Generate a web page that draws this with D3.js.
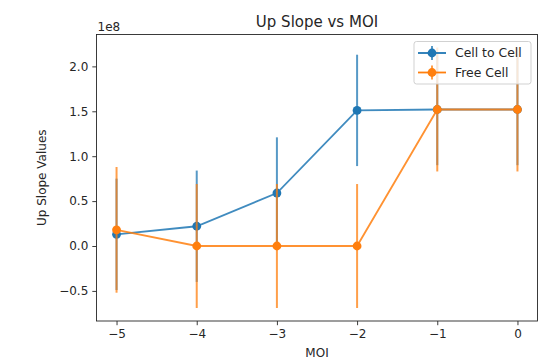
<!DOCTYPE html>
<html>
<head>
<meta charset="utf-8">
<script src="https://cdn.jsdelivr.net/npm/d3@7"></script>
<style>
  body { margin: 0; background: #fff; }
  svg { font-family: "DejaVu Sans", sans-serif; }
</style>
</head>
<body>
<svg id="chart"></svg>
<script>
// values in units of 1e8
const moi = [-5, -4, -3, -2, -1, 0];
const cellToCell = [0.13, 0.22, 0.59, 1.51, 1.52, 1.52];
const cellToCellErr = [0.62, 0.62, 0.62, 0.62, 0.62, 0.62];
const freeCell = [0.18, 0.0, 0.0, 0.0, 1.52, 1.52];
const freeCellErr = [0.70, 0.69, 0.69, 0.69, 0.69, 0.69];
const xTicks = [-5, -4, -3, -2, -1, 0];
const yTicks = [-0.5, 0.0, 0.5, 1.0, 1.5, 2.0];

const width = 555, height = 360;
const margin = {top: 34.5, right: 17.5, bottom: 39, left: 96.5};

const series = [
  {name: 'Cell to Cell', values: cellToCell, err: cellToCellErr, color: '#1f77b4'},
  {name: 'Free Cell', values: freeCell, err: freeCellErr, color: '#ff7f0e'}
];

const svg = d3.select('#chart')
  .attr('width', width)
  .attr('height', height);

const x = d3.scaleLinear()
  .domain([-5.25, 0.25])
  .range([margin.left, width - margin.right]);

// matplotlib style 5% padding around the error bar extent
const lo = d3.min(series, s => d3.min(s.values, (v, i) => v - s.err[i]));
const hi = d3.max(series, s => d3.max(s.values, (v, i) => v + s.err[i]));
const pad = (hi - lo) * 0.05;
const y = d3.scaleLinear()
  .domain([lo - pad, hi + pad])
  .range([height - margin.bottom, margin.top]);

const tickColor = '#262626';

const xAxis = svg.append('g')
  .attr('transform', 'translate(0,' + (height - margin.bottom) + ')')
  .call(d3.axisBottom(x)
    .tickValues(xTicks)
    .tickSize(4.2)
    .tickPadding(4)
    .tickFormat(d => d3.format('d')(d).replace('-', '\u2212')));

const yAxis = svg.append('g')
  .attr('transform', 'translate(' + margin.left + ',0)')
  .call(d3.axisLeft(y)
    .tickValues(yTicks)
    .tickSize(4.2)
    .tickPadding(4)
    .tickFormat(d => d3.format('.1f')(d).replace('-', '\u2212')));

[xAxis, yAxis].forEach(g => {
  g.select('.domain').remove();
  g.selectAll('.tick line').attr('stroke', tickColor).attr('stroke-width', 0.9);
  g.selectAll('.tick text')
    .attr('fill', tickColor)
    .style('font-size', '12px')
    .style('font-family', '"DejaVu Sans", sans-serif');
});

const plot = svg.append('g');

series.forEach(s => {
  const g = plot.append('g');
  g.selectAll('line.err')
    .data(moi)
    .join('line')
    .attr('class', 'err')
    .attr('x1', d => x(d))
    .attr('x2', d => x(d))
    .attr('y1', (d, i) => y(s.values[i] - s.err[i]))
    .attr('y2', (d, i) => y(s.values[i] + s.err[i]))
    .attr('stroke', s.color)
    .attr('stroke-width', 2)
    .attr('opacity', 0.75);

  g.append('path')
    .datum(moi)
    .attr('d', d3.line()
      .x(d => x(d))
      .y((d, i) => y(s.values[i])))
    .attr('fill', 'none')
    .attr('stroke', s.color)
    .attr('stroke-width', 1.8)
    .attr('opacity', 0.85);

  g.selectAll('circle')
    .data(moi)
    .join('circle')
    .attr('cx', d => x(d))
    .attr('cy', (d, i) => y(s.values[i]))
    .attr('r', 4.4)
    .attr('fill', s.color);
});

// frame
svg.append('rect')
  .attr('x', margin.left)
  .attr('y', margin.top)
  .attr('width', width - margin.left - margin.right)
  .attr('height', height - margin.top - margin.bottom)
  .attr('fill', 'none')
  .attr('stroke', tickColor)
  .attr('stroke-width', 0.9);

// offset text
svg.append('text')
  .attr('x', margin.left + 1)
  .attr('y', margin.top - 3.5)
  .attr('font-size', 12)
  .attr('fill', tickColor)
  .text('1e8');

svg.append('text')
  .attr('x', (margin.left + width - margin.right) / 2)
  .attr('y', 27)
  .attr('text-anchor', 'middle')
  .attr('font-size', 15)
  .attr('fill', tickColor)
  .text('Up Slope vs MOI');

svg.append('text')
  .attr('x', (margin.left + width - margin.right) / 2)
  .attr('y', 357)
  .attr('text-anchor', 'middle')
  .attr('font-size', 12)
  .attr('fill', tickColor)
  .text('MOI');

svg.append('text')
  .attr('transform', 'translate(46,' + ((margin.top + height - margin.bottom) / 2) + ') rotate(-90)')
  .attr('text-anchor', 'middle')
  .attr('font-size', 12)
  .attr('fill', tickColor)
  .text('Up Slope Values');

// legend
const legend = svg.append('g').attr('transform', 'translate(414,41.5)');
legend.append('rect')
  .attr('width', 117)
  .attr('height', 42.5)
  .attr('rx', 2.5)
  .attr('fill', '#fff')
  .attr('fill-opacity', 0.8)
  .attr('stroke', '#ccc')
  .attr('stroke-width', 0.9);

series.forEach((s, i) => {
  const row = legend.append('g').attr('transform', 'translate(0,' + (11.5 + i * 19.5) + ')');
  row.append('line')
    .attr('x1', 4).attr('x2', 32)
    .attr('stroke', s.color).attr('stroke-width', 1.8);
  row.append('line')
    .attr('x1', 18).attr('x2', 18).attr('y1', -7).attr('y2', 7)
    .attr('stroke', s.color).attr('stroke-width', 2).attr('opacity', 0.75);
  row.append('circle')
    .attr('cx', 18).attr('r', 4.4).attr('fill', s.color);
  row.append('text')
    .attr('x', 41)
    .attr('dy', '0.35em')
    .attr('font-size', 12.4)
    .attr('fill', tickColor)
    .text(s.name);
});
</script>
</body>
</html>
